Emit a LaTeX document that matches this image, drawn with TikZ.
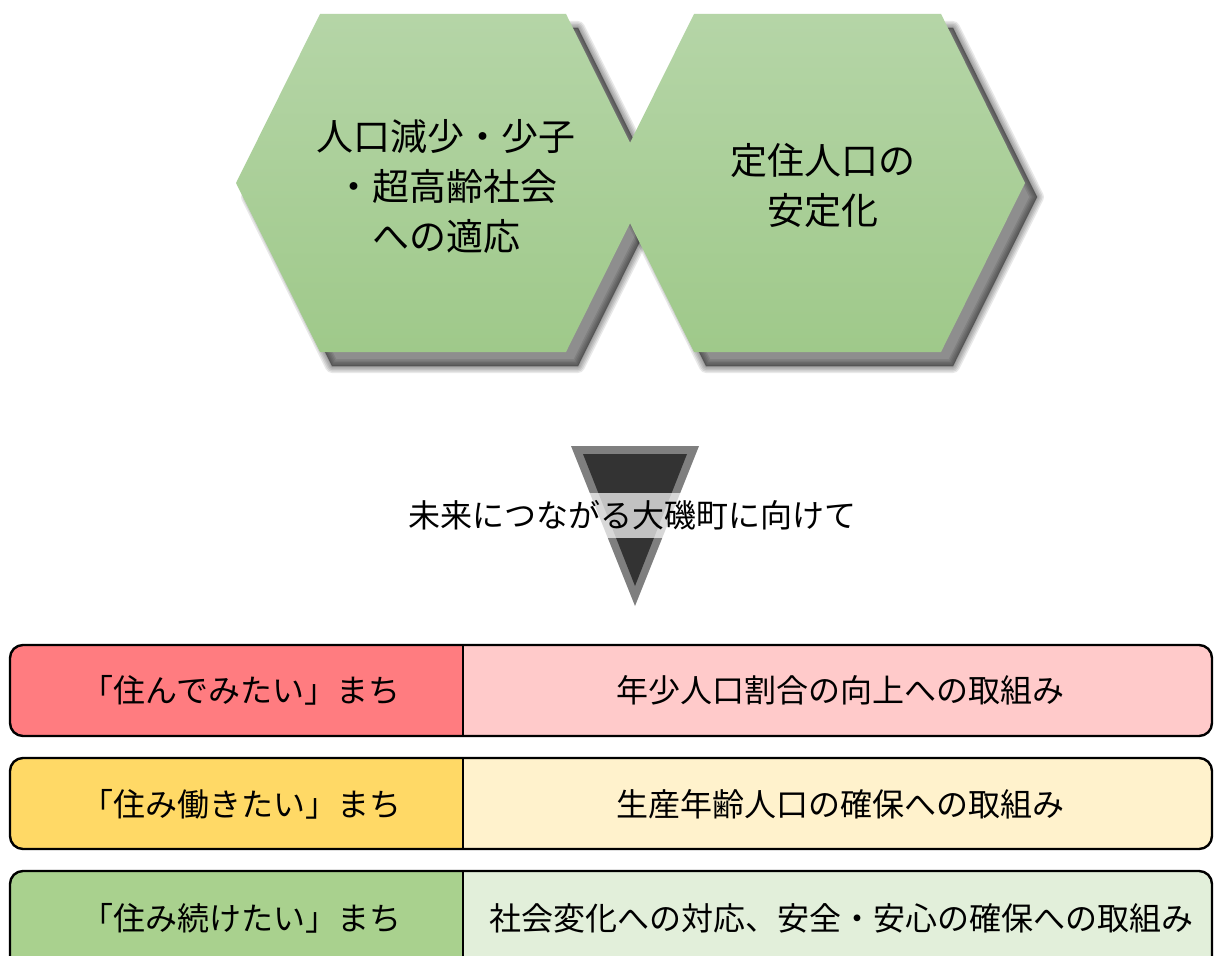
\documentclass[tikz,border=0pt]{standalone}
\usepackage{fontspec}
\setmainfont{Noto Sans CJK JP}
\definecolor{hexTop}{HTML}{B5D5A7}
\definecolor{hexBot}{HTML}{9FC98A}
\definecolor{triOut}{HTML}{7F7F7F}
\definecolor{triIn}{HTML}{333333}
\definecolor{redL}{HTML}{FF7C80}
\definecolor{redR}{HTML}{FFCACA}
\definecolor{yelL}{HTML}{FFD966}
\definecolor{yelR}{HTML}{FFF2CC}
\definecolor{grnL}{HTML}{A9D18E}
\definecolor{grnR}{HTML}{E2EFDA}
\tikzset{
  hexshade/.style={top color=hexTop, bottom color=hexBot, draw=none},
  shadowlayer/.style={fill=black, draw=black, opacity=0.09, line join=round},
  hextext/.style={font=\fontsize{37}{50}\selectfont, align=center, inner sep=0pt},
  midtext/.style={font=\fontsize{32}{38}\selectfont, inner xsep=0pt, inner ysep=0pt, minimum height=45pt, fill=white, fill opacity=0.7, text opacity=1},
  bartext/.style={font=\fontsize{32}{36}\selectfont, inner sep=0pt},
  barline/.style={draw=black, line width=2.4pt, rounded corners=13pt},
}
\begin{document}
\begin{tikzpicture}[x=1pt,y=-1pt]
\clip (0,0) rectangle (1214,955);
\fill[white] (0,0) rectangle (1214,955);
% shadows
\foreach \w in {14,11,8,5,2,0.5}{
  \filldraw[shadowlayer, line width=\w pt, shift={(12,14)}]
    (320,14) -- (566,14) -- (650,183) -- (566,352) -- (320,352) -- (236,183) -- cycle;
  \filldraw[shadowlayer, line width=\w pt, shift={(12,14)}]
    (694,14) -- (941,14) -- (1025,183) -- (941,352) -- (694,352) -- (610,183) -- cycle;
}
% hexagons
\shade[hexshade] (320,14) -- (566,14) -- (650,183) -- (566,352) -- (320,352) -- (236,183) -- cycle;
\shade[hexshade] (694,14) -- (941,14) -- (1025,183) -- (941,352) -- (694,352) -- (610,183) -- cycle;
\node[hextext] (h1) at (446,186) {人口減少・少子\\・超高齢社会\\への適応};
\node[hextext] (h2) at (823,185) {定住人口の\\安定化};
% triangle
\fill[triOut] (571,446) -- (699,446) -- (635,606) -- cycle;
\fill[triIn] (583,454) -- (687,454) -- (635,586) -- cycle;
\node[midtext] (mid) at (632,515) {未来につながる大磯町に向けて};
% bars
\foreach \top/\bot/\cl/\cr/\n in {645/736/redL/redR/1, 758/849/yelL/yelR/2, 871/975/grnL/grnR/3}{
  \begin{scope}
    \clip[rounded corners=13pt] (10,\top) rectangle (1212,\bot);
    \fill[\cr] (10,\top) rectangle (1212,\bot);
    \fill[\cl] (10,\top) rectangle (463,\bot);
  \end{scope}
  \draw[barline] (10,\top) rectangle (1212,\bot);
  \draw[line width=2.4pt] (463,\top) -- (463,\bot);
}
\node[bartext] (l1) at (241,690) {「住んでみたい」まち};
\node[bartext] (r1) at (840,690) {年少人口割合の向上への取組み};
\node[bartext] (l2) at (241,804) {「住み働きたい」まち};
\node[bartext] (r2) at (840,804) {生産年齢人口の確保への取組み};
\node[bartext] (l3) at (241,918) {「住み続けたい」まち};
\node[bartext] (r3) at (841,918) {社会変化への対応、安全・安心の確保への取組み};
\end{tikzpicture}
\end{document}
